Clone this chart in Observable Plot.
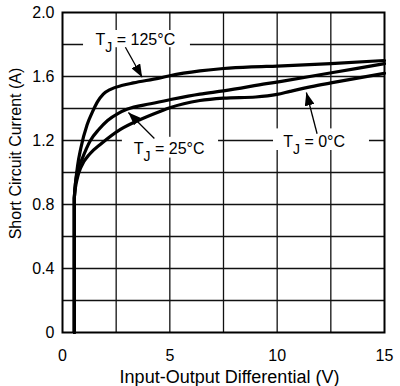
<!DOCTYPE html>
<html>
<head>
<meta charset="utf-8">
<script src="https://cdn.jsdelivr.net/npm/d3@7"></script>
<script src="https://cdn.jsdelivr.net/npm/@observablehq/plot@0.6"></script>
<style>
  html, body { margin: 0; padding: 0; background: #fff; }
  #chart svg { display: block; }
</style>
</head>
<body>
<div id="chart"></div>
<script>
// ---- data ----
const xTicks = [0, 5, 10, 15];
const yTicks = [0, 0.4, 0.8, 1.2, 1.6, 2.0];
const xGrid = [2.5, 5, 7.5, 10, 12.5];
const yGrid = [0.2, 0.4, 0.6, 0.8, 1.0, 1.2, 1.4, 1.6, 1.8];

const series = ["125", "25", "0"];
const t125x = [0.55, 0.55, 0.62, 0.70, 0.85, 1.15, 1.40, 1.62, 1.90, 2.24, 2.80, 3.30, 4.50, 5.00, 6.40, 7.50, 8.80, 10.0, 12.5, 15.0];
const t125y = [0.00, 0.84, 0.95, 1.04, 1.15, 1.30, 1.38, 1.44, 1.49, 1.52, 1.545, 1.56, 1.59, 1.605, 1.635, 1.65, 1.66, 1.665, 1.68, 1.70];
const t25x  = [0.55, 0.55, 0.68, 0.90, 1.30, 1.70, 2.10, 2.60, 3.00, 4.10, 5.00, 6.40, 7.50, 9.50, 10.2, 12.6, 15.0];
const t25y  = [0.00, 0.84, 1.00, 1.08, 1.20, 1.27, 1.325, 1.37, 1.395, 1.43, 1.455, 1.49, 1.51, 1.555, 1.57, 1.625, 1.68];
const t0x   = [0.55, 0.55, 0.70, 0.85, 1.30, 1.80, 2.70, 3.60, 4.60, 5.00, 6.40, 7.50, 9.00, 10.0, 10.6, 11.6, 12.5, 15.0];
const t0y   = [0.00, 0.84, 0.97, 1.03, 1.12, 1.18, 1.27, 1.33, 1.385, 1.405, 1.45, 1.465, 1.472, 1.488, 1.507, 1.537, 1.56, 1.62];

// annotations (data coordinates)
const labelText = ["T_J = 125°C", "T_J = 25°C", "T_J = 0°C"];
const labelX = [1.54, 3.32, 10.28];
const labelY = [1.794, 1.117, 1.1625];
const boxX1 = [0.98, 2.79, 9.83];
const boxX2 = [5.96, 7.27, 14.30];
const boxY1 = [1.78, 1.09, 1.1375];
const boxY2 = [1.8875, 1.22, 1.2725];
const arrowX1 = [2.93, 4.28, 11.86];
const arrowY1 = [1.783, 1.2125, 1.242];
const arrowX2 = [3.71, 3.07, 11.36];
const arrowY2 = [1.595, 1.375, 1.50];

const xLabel = "Input-Output Differential (V)";
const yLabel = "Short Circuit Current (A)";

// ---- build tables ----
const curves = [
  ...t125x.map((x, i) => ({series: "125", x, y: t125y[i]})),
  ...t25x.map((x, i) => ({series: "25", x, y: t25y[i]})),
  ...t0x.map((x, i) => ({series: "0", x, y: t0y[i]}))
];
const labels = labelText.map((text, i) => ({text, x: labelX[i], y: labelY[i]}));
const boxes = boxX1.map((x1, i) => ({x1, x2: boxX2[i], y1: boxY1[i], y2: boxY2[i]}));
const arrows = arrowX1.map((x1, i) => ({x1, y1: arrowY1[i], x2: arrowX2[i], y2: arrowY2[i]}));

const chart = Plot.plot({
  width: 400,
  height: 386,
  marginLeft: 62,
  marginRight: 16,
  marginTop: 12,
  marginBottom: 54,
  style: {fontFamily: "'Liberation Sans', Arial, Helvetica, sans-serif", fontSize: "16px", background: "#fff", color: "#000"},
  x: {domain: [0, 15], ticks: xTicks, tickSize: 0, tickPadding: 17, label: null},
  y: {domain: [0, 2], ticks: yTicks, tickSize: 0, tickPadding: 8, label: null,
      tickFormat: d => d === 0 ? "0" : d.toFixed(1)},
  marks: [
    Plot.ruleX(xGrid, {stroke: "#111", strokeWidth: 1.3}),
    Plot.ruleY(yGrid, {stroke: "#111", strokeWidth: 1.3}),
    Plot.rect(boxes, {x1: "x1", x2: "x2", y1: "y1", y2: "y2", fill: "#fff"}),
    Plot.line(curves, {x: "x", y: "y", z: "series", stroke: "#000", strokeWidth: 3.2, curve: "monotone-x", strokeLinejoin: "round"}),
    Plot.link(arrows, {x1: "x1", y1: "y1", x2: "x2", y2: "y2", stroke: "#000", strokeWidth: 1.3}),
    Plot.text(labels, {x: "x", y: "y", text: "text", textAnchor: "start", lineAnchor: "bottom", fontSize: 16, fill: "#000"}),
    Plot.text([yLabel], {frameAnchor: "left", rotate: -90, textAnchor: "middle", lineAnchor: "bottom", dx: -41.5, dy: -19, fontSize: 16, fill: "#000"}),
    Plot.text([xLabel], {frameAnchor: "bottom", textAnchor: "middle", lineAnchor: "bottom", dx: 6, dy: 50, fontSize: 18, fill: "#000"}),
    Plot.frame({stroke: "#000", strokeWidth: 2})
  ]
});

// filled triangular arrowheads
const ns = "http://www.w3.org/2000/svg";
const defs = document.createElementNS(ns, "defs");
const marker = document.createElementNS(ns, "marker");
marker.setAttribute("id", "tri-head");
marker.setAttribute("viewBox", "0 0 13 10");
marker.setAttribute("refX", "13");
marker.setAttribute("refY", "5");
marker.setAttribute("markerWidth", "13");
marker.setAttribute("markerHeight", "10");
marker.setAttribute("markerUnits", "userSpaceOnUse");
marker.setAttribute("orient", "auto");
const mp = document.createElementNS(ns, "path");
mp.setAttribute("d", "M0,0L13,5L0,10Z");
mp.setAttribute("fill", "#000");
marker.appendChild(mp);
defs.appendChild(marker);
chart.insertBefore(defs, chart.firstChild);
chart.querySelectorAll('g[aria-label="link"] path').forEach(p => p.setAttribute("marker-end", "url(#tri-head)"));

// subscripts in T_J labels
chart.querySelectorAll("text").forEach(t => {
  const s = t.textContent;
  if (!s.startsWith("T_J")) return;
  t.textContent = "";
  const a = document.createElementNS(ns, "tspan"); a.textContent = "T";
  const b = document.createElementNS(ns, "tspan"); b.textContent = "J";
  b.setAttribute("font-size", "14"); b.setAttribute("dy", "7");
  const c = document.createElementNS(ns, "tspan"); c.textContent = s.slice(3);
  c.setAttribute("dy", "-7");
  t.append(a, b, c);
});

document.getElementById("chart").appendChild(chart);
</script>
</body>
</html>
